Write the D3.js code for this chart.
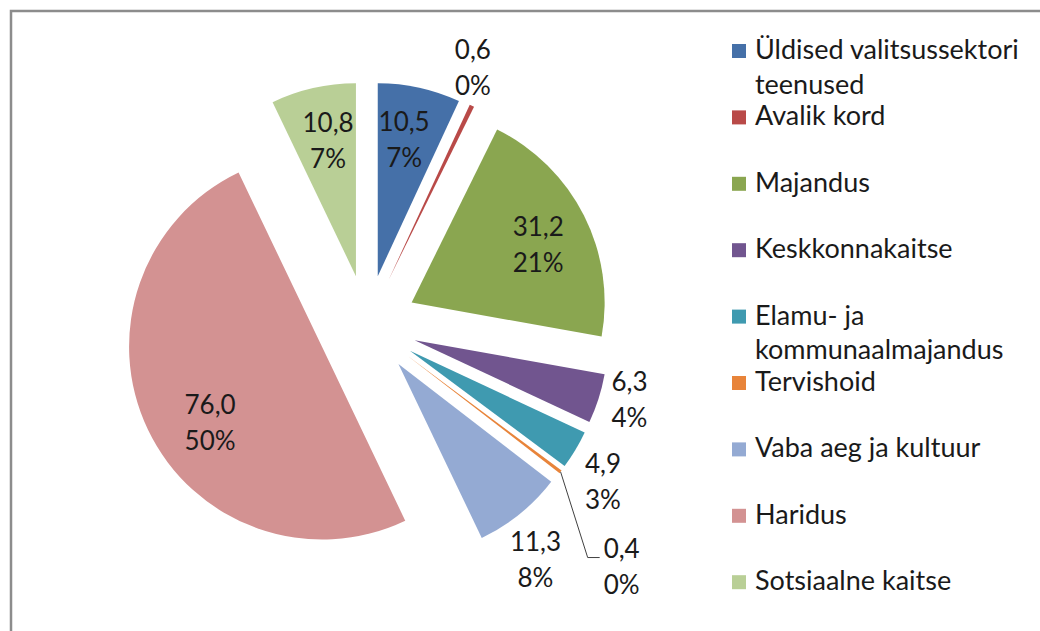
<!DOCTYPE html>
<html>
<head>
<meta charset="utf-8">
<script src="https://cdn.jsdelivr.net/npm/d3@7"></script>
<style>
  body { margin: 0; background: #fff; }
  text { font-family: Lato, "DejaVu Sans", sans-serif; fill: #1a1a1a; }
</style>
</head>
<body>
<div id="chart"></div>
<script>
// categories and values
var kategooriad = ["Üldised valitsussektori teenused", "Avalik kord", "Majandus", "Keskkonnakaitse",
  "Elamu- ja kommunaalmajandus", "Tervishoid", "Vaba aeg ja kultuur", "Haridus", "Sotsiaalne kaitse"];
var legendiRead = [["Üldised valitsussektori", "teenused"], ["Avalik kord"], ["Majandus"], ["Keskkonnakaitse"],
  ["Elamu- ja", "kommunaalmajandus"], ["Tervishoid"], ["Vaba aeg ja kultuur"], ["Haridus"], ["Sotsiaalne kaitse"]];
var vaartused = [10.5, 0.6, 31.2, 6.3, 4.9, 0.4, 11.3, 76.0, 10.8];
// percentages as printed on the chart
var protsendid = [7, 0, 21, 4, 3, 0, 8, 50, 7];
var varvid = ["#4570a8", "#b94a48", "#8aa650", "#71558f", "#3f9ab0", "#e8843a", "#94aad3", "#d39292", "#b9cf96"];

// label placement: angle nudge (deg) and distance from pie centre
var sildiNihe = [[-1.1, 189], [-3.2, 278], [1.7, 189], [-1.7, 273], [2.6, 283], [6.3, 351], [3.3, 289], [-6.4, 185], [0.9, 189]];

var width = 1040, height = 631;
var cx = 367, cy = 325, r = 193, plahvatus = 50;

var svg = d3.select("#chart").append("svg")
    .attr("width", width)
    .attr("height", height);

// chart area border
svg.append("rect")
    .attr("x", 11).attr("y", 11)
    .attr("width", 1100).attr("height", 700)
    .attr("fill", "none")
    .attr("stroke", "#8c8c8c")
    .attr("stroke-width", 2.5);

var pie = d3.pie().sort(null).value(function(d) { return d; });
var arc = d3.arc().innerRadius(0).outerRadius(r);
var lõigud = pie(vaartused);

var g = svg.append("g").attr("transform", "translate(" + cx + "," + cy + ")");

function kesk(d) { return (d.startAngle + d.endAngle) / 2; }

g.selectAll("path.slice")
    .data(lõigud)
  .enter().append("path")
    .attr("class", "slice")
    .attr("fill", function(d, i) { return varvid[i]; })
    .attr("transform", function(d) {
      var a = kesk(d);
      return "translate(" + (plahvatus * Math.sin(a)) + "," + (-plahvatus * Math.cos(a)) + ")";
    })
    .attr("d", arc);

var fmt = function(v) { return v.toFixed(1).replace(".", ","); };

// data labels
lõigud.forEach(function(d, i) {
  var a = kesk(d) + sildiNihe[i][0] * Math.PI / 180;
  var dist = sildiNihe[i][1];
  var lx = dist * Math.sin(a), ly = -dist * Math.cos(a);
  var t = g.append("text")
      .attr("text-anchor", "middle")
      .style("font-size", "26px");
  t.append("tspan").attr("x", lx).attr("y", ly - 8.5).text(fmt(d.data));
  t.append("tspan").attr("x", lx).attr("y", ly + 27.5).text(protsendid[i] + "%");

  // leader line for the thin Tervishoid slice
  if (i === 5) {
    var m = kesk(d);
    var sx = (plahvatus + r) * Math.sin(m), sy = -(plahvatus + r) * Math.cos(m);
    var ex = lx - 22, ey = ly - 9;
    g.append("path")
        .attr("d", "M" + sx + "," + sy + "L" + (ex - 12) + "," + ey + "L" + ex + "," + ey)
        .attr("fill", "none")
        .attr("stroke", "#404040")
        .attr("stroke-width", 1);
  }
});

// legend
var leg = svg.append("g").attr("transform", "translate(732,0)");
legendiRead.forEach(function(read, i) {
  var base = 59 + i * 66.4;
  leg.append("rect")
      .attr("x", 0).attr("y", base - 15)
      .attr("width", 14).attr("height", 14)
      .attr("fill", varvid[i]);
  var t = leg.append("text").style("font-size", "27px");
  read.forEach(function(rida, j) {
    t.append("tspan").attr("x", 23).attr("y", base + j * 34.5).text(rida);
  });
});
</script>
</body>
</html>
